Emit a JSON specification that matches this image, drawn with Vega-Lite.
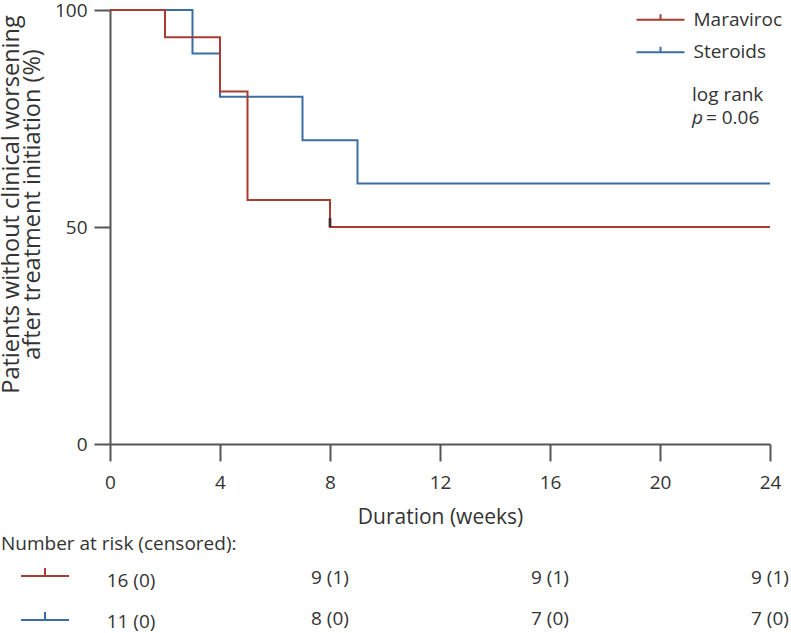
{
  "$schema": "https://vega.github.io/schema/vega-lite/v6.json",
  "padding": {"left": -2, "top": 1, "right": 0, "bottom": 0},
  "autosize": {"type": "pad"},
  "bounds": "flush",
  "spacing": 134,
  "background": "white",
  "config": {"font": "Open Sans", "view": {"stroke": null}},
  "resolve": {"legend": {"color": "independent", "stroke": "independent"}},
  "vconcat": [
    {
      "width": 660,
      "height": 434,
      "layer": [
        {
          "data": {"values": [
            {"group": "Steroids", "week": 0, "survival": 100},
            {"group": "Steroids", "week": 3, "survival": 90},
            {"group": "Steroids", "week": 4, "survival": 80},
            {"group": "Steroids", "week": 7, "survival": 70},
            {"group": "Steroids", "week": 9, "survival": 60},
            {"group": "Steroids", "week": 24, "survival": 60},
            {"group": "Maraviroc", "week": 0, "survival": 100},
            {"group": "Maraviroc", "week": 2, "survival": 93.75},
            {"group": "Maraviroc", "week": 4, "survival": 81.25},
            {"group": "Maraviroc", "week": 5, "survival": 56.25},
            {"group": "Maraviroc", "week": 8, "survival": 50},
            {"group": "Maraviroc", "week": 24, "survival": 50}
          ]},
          "mark": {"type": "line", "interpolate": "step-after", "strokeWidth": 2},
          "encoding": {
            "x": {
              "field": "week", "type": "quantitative",
              "scale": {"domain": [0, 24], "nice": false},
              "axis": {
                "values": [0, 4, 8, 12, 16, 20, 24], "title": "Duration (weeks)", "grid": false,
                "domainColor": "#555", "domainWidth": 2, "tickColor": "#555", "tickWidth": 2, "tickSize": 17,
                "labelFontSize": 19, "labelColor": "#333", "labelPadding": 21, "labelBaseline": "middle", "labelFlush": false,
                "titleFontSize": 21, "titleFontWeight": "normal", "titleColor": "#333",
                "titleX": 330, "titleY": 79, "titleBaseline": "alphabetic", "titleAlign": "center"
              }
            },
            "y": {
              "field": "survival", "type": "quantitative",
              "scale": {"domain": [0, 100], "nice": false},
              "axis": {
                "values": [0, 50, 100],
                "title": ["Patients without clinical worsening", "after treatment initiation (%)"],
                "grid": false,
                "domainColor": "#555", "domainWidth": 2, "tickColor": "#555", "tickWidth": 2, "tickSize": 16,
                "labelFontSize": 19, "labelColor": "#333", "labelPadding": 7, "labelBaseline": "middle", "labelFlush": false,
                "titleFontSize": 23.5, "titleFontWeight": "normal", "titleColor": "#333", "titleLineHeight": 21,
                "titleX": -92, "titleY": 194, "titleBaseline": "alphabetic", "titleAlign": "center", "titleAngle": -90
              }
            },
            "color": {
              "field": "group", "type": "nominal",
              "scale": {"domain": ["Maraviroc", "Steroids"], "range": ["#a83c32", "#3b6ea5"]},
              "legend": {
                "orient": "none", "legendX": 539.5, "legendY": -1.3, "title": null, "padding": 0,
                "symbolType": "M-2.4,0H2.4M0,0V-0.55", "symbolSize": 400, "symbolStrokeWidth": 2,
                "labelOffset": 22, "labelFontSize": 19, "labelColor": "#333", "rowPadding": 11.5
              }
            }
          }
        },
        {
          "data": {"values": [{"group": "Maraviroc", "week": 8, "survival": 50}]},
          "mark": {"type": "tick", "orient": "vertical", "size": 9, "thickness": 3, "color": "#222", "yOffset": -4.5},
          "encoding": {
            "x": {"field": "week", "type": "quantitative"},
            "y": {"field": "survival", "type": "quantitative"}
          }
        },
        {
          "data": {"values": [
            {"week": 21.16, "survival": 80.4, "label": "log rank"},
            {"week": 21.67, "survival": 75.1, "label": "= 0.06"}
          ]},
          "mark": {"type": "text", "align": "left", "baseline": "middle", "fontSize": 19, "color": "#333"},
          "encoding": {
            "x": {"field": "week", "type": "quantitative"},
            "y": {"field": "survival", "type": "quantitative"},
            "text": {"field": "label"}
          }
        },
        {
          "data": {"values": [{"week": 21.16, "survival": 75.1, "label": "p"}]},
          "mark": {"type": "text", "align": "left", "baseline": "middle", "fontSize": 19, "fontStyle": "italic", "color": "#333"},
          "encoding": {
            "x": {"field": "week", "type": "quantitative"},
            "y": {"field": "survival", "type": "quantitative"},
            "text": {"field": "label"}
          }
        }
      ]
    },
    {
      "width": 660,
      "height": 41,
      "title": {
        "text": "Number at risk (censored):", "anchor": "start", "frame": "group", "dx": -109,
        "offset": -4, "baseline": "alphabetic", "fontSize": 19, "fontWeight": "normal", "color": "#333"
      },
      "data": {"values": [
        {"group": "Maraviroc", "week": 0, "label": "16 (0)"},
        {"group": "Maraviroc", "week": 8, "label": "9 (1)"},
        {"group": "Maraviroc", "week": 16, "label": "9 (1)"},
        {"group": "Maraviroc", "week": 24, "label": "9 (1)"},
        {"group": "Steroids", "week": 0, "label": "11 (0)"},
        {"group": "Steroids", "week": 8, "label": "8 (0)"},
        {"group": "Steroids", "week": 16, "label": "7 (0)"},
        {"group": "Steroids", "week": 24, "label": "7 (0)"}
      ]},
      "encoding": {
        "x": {"field": "week", "type": "quantitative", "scale": {"domain": [0, 24], "nice": false}, "axis": null},
        "y": {"field": "group", "type": "nominal", "scale": {"type": "point", "domain": ["Maraviroc", "Steroids"], "padding": 0}, "axis": null},
        "text": {"field": "label"},
        "stroke": {
          "field": "group", "type": "nominal",
          "scale": {"domain": ["Maraviroc", "Steroids"], "range": ["#a83c32", "#3b6ea5"]},
          "legend": {
            "orient": "none", "legendX": -76, "legendY": -13, "title": null, "padding": 0,
            "labelExpr": "''", "symbolType": "M-2.4,0H2.4M0,0V-0.8", "symbolSize": 400, "symbolStrokeWidth": 2,
            "rowPadding": 27
          }
        }
      },
      "layer": [
        {
          "transform": [{"filter": "datum.week == 0"}],
          "mark": {"type": "text", "fontSize": 19, "color": "#333", "strokeWidth": 0, "dx": 21, "dy": 3, "baseline": "middle"}
        },
        {
          "transform": [{"filter": "datum.week > 0"}],
          "mark": {"type": "text", "fontSize": 19, "color": "#333", "strokeWidth": 0, "baseline": "middle"}
        }
      ]
    }
  ]
}
